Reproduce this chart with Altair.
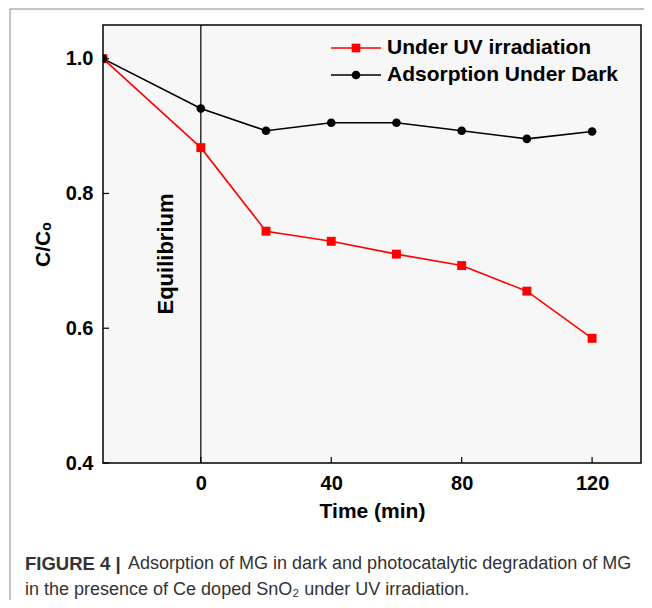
import altair as alt
import pandas as pd

# ---- data ----
time_min = [-30, 0, 20, 40, 60, 80, 100, 120]
uv_values = [1.0, 0.868, 0.744, 0.729, 0.710, 0.693, 0.655, 0.585]
dark_values = [1.0, 0.926, 0.893, 0.905, 0.905, 0.893, 0.881, 0.892]
series_names = ["Under UV irradiation", "Adsorption Under Dark"]
series_colors = ["#ff0000", "#000000"]
x_ticks = [0, 40, 80, 120]
y_ticks = [0.4, 0.6, 0.8, 1.0]

FONT = "Liberation Sans"
W, H = 538, 438

df = pd.DataFrame(
    {"t": time_min * 2,
     "v": uv_values + dark_values,
     "s": [series_names[0]] * len(time_min) + [series_names[1]] * len(time_min)}
)
uv_df = df[df.s == series_names[0]]
dk_df = df[df.s == series_names[1]]

xs = alt.Scale(domain=[-30, 135], nice=False, zero=False)
ys = alt.Scale(domain=[0.4, 1.05], nice=False, zero=False)

xax = alt.Axis(values=x_ticks, title="Time (min)", grid=False, domain=False, ticks=False,
               labelFont=FONT, labelFontSize=20, labelFontWeight="bold", labelColor="#000",
               labelPadding=10, titleFont=FONT, titleFontSize=21, titleFontWeight="bold",
               titleColor="#000", titlePadding=7)
yax = alt.Axis(values=y_ticks, format=".1f", title="C/Cₒ", grid=False, domain=False, ticks=False,
               labelFont=FONT, labelFontSize=20, labelFontWeight="bold", labelColor="#000",
               labelPadding=10, titleFont=FONT, titleFontSize=21, titleFontWeight="bold",
               titleColor="#000", titlePadding=12)

base = alt.Chart(df)

axes_layer = base.mark_point(opacity=0).encode(
    x=alt.X("t:Q", scale=xs, axis=xax),
    y=alt.Y("v:Q", scale=ys, axis=yax),
)

# vertical equilibrium line at t=0
eq_line = alt.Chart(pd.DataFrame({"t": [0]})).mark_rule(color="#000", strokeWidth=1.2).encode(
    x=alt.X("t:Q", scale=xs)
)

uv_line = alt.Chart(uv_df).mark_line(color=series_colors[0], strokeWidth=1.6, clip=True).encode(
    x=alt.X("t:Q", scale=xs), y=alt.Y("v:Q", scale=ys))
uv_pts = alt.Chart(uv_df).mark_point(shape="square", filled=True, opacity=1, size=80,
                                      color=series_colors[0], clip=True).encode(
    x=alt.X("t:Q", scale=xs), y=alt.Y("v:Q", scale=ys))
dk_line = alt.Chart(dk_df).mark_line(color=series_colors[1], strokeWidth=1.6, clip=True).encode(
    x=alt.X("t:Q", scale=xs), y=alt.Y("v:Q", scale=ys))
dk_pts = alt.Chart(dk_df).mark_point(shape="circle", filled=True, opacity=1, size=75,
                                      color=series_colors[1], clip=True).encode(
    x=alt.X("t:Q", scale=xs), y=alt.Y("v:Q", scale=ys))

# inward ticks
xt = alt.Chart(pd.DataFrame({"t": x_ticks})).mark_rule(color="#000", strokeWidth=1.2).encode(
    x=alt.X("t:Q", scale=xs), y=alt.value(H), y2=alt.value(H - 6))
yt = alt.Chart(pd.DataFrame({"v": y_ticks})).mark_rule(color="#000", strokeWidth=1.2).encode(
    y=alt.Y("v:Q", scale=ys), x=alt.value(0), x2=alt.value(6))

# Equilibrium label
eq_text = alt.Chart(pd.DataFrame({"a": [0]})).mark_text(
    text="Equilibrium", angle=270, font=FONT, fontSize=22, fontWeight="bold", color="#000",
    align="center", baseline="middle").encode(x=alt.value(63), y=alt.value(229))

# legend (manual)
leg_layers = []
for i, (name, col, shp) in enumerate(zip(series_names, series_colors, ["square", "circle"])):
    yy = 23 + 27 * i
    leg_layers.append(alt.Chart(pd.DataFrame({"a": [0]})).mark_rule(color=col, strokeWidth=1.6).encode(
        x=alt.value(228), x2=alt.value(278), y=alt.value(yy)))
    leg_layers.append(alt.Chart(pd.DataFrame({"a": [0]})).mark_point(
        shape=shp, filled=True, opacity=1, size=75, color=col).encode(
        x=alt.value(253), y=alt.value(yy)))
    leg_layers.append(alt.Chart(pd.DataFrame({"a": [0]})).mark_text(
        text=name, font=FONT, fontSize=21, fontWeight="bold", color="#000",
        align="left", baseline="middle").encode(x=alt.value(284), y=alt.value(yy)))

# caption
cap_color = "#333333"
cap1b = alt.Chart(pd.DataFrame({"a": [0]})).mark_text(
    text="FIGURE 4 |", font=FONT, fontSize=18.5, fontWeight="bold", color=cap_color,
    align="left", baseline="middle").encode(x=alt.value(-78), y=alt.value(539))
cap1 = alt.Chart(pd.DataFrame({"a": [0]})).mark_text(
    text="Adsorption of MG in dark and photocatalytic degradation of MG", font=FONT,
    fontSize=18, color=cap_color, align="left", baseline="middle").encode(
    x=alt.value(25), y=alt.value(539))
cap2 = alt.Chart(pd.DataFrame({"a": [0]})).mark_text(
    text="in the presence of Ce doped SnO₂ under UV irradiation.", font=FONT,
    fontSize=18, color=cap_color, align="left", baseline="middle").encode(
    x=alt.value(-78), y=alt.value(565))

# outer frame
frame_v = alt.Chart(pd.DataFrame({"a": [0]})).mark_rule(color="#888", strokeWidth=1).encode(
    x=alt.value(-93), y=alt.value(-16), y2=alt.value(610))
frame_h = alt.Chart(pd.DataFrame({"a": [0]})).mark_rule(color="#888", strokeWidth=1).encode(
    x=alt.value(-93), x2=alt.value(560), y=alt.value(-16))

chart = alt.layer(
    axes_layer, eq_line, xt, yt, uv_line, dk_line, uv_pts, dk_pts, eq_text,
    *leg_layers, cap1b, cap1, cap2, frame_v, frame_h
).properties(
    width=W, height=H,
    autosize=alt.AutoSizeParams(type="none"),
    padding={"left": 95, "top": 17, "right": 3, "bottom": 137},
).configure(
    background="white",
    view=alt.ViewConfig(fill="#f7f7f7", stroke="#000", strokeWidth=1.5),
)

chart.save("out.html", embed_options={"renderer": "svg", "actions": False})
